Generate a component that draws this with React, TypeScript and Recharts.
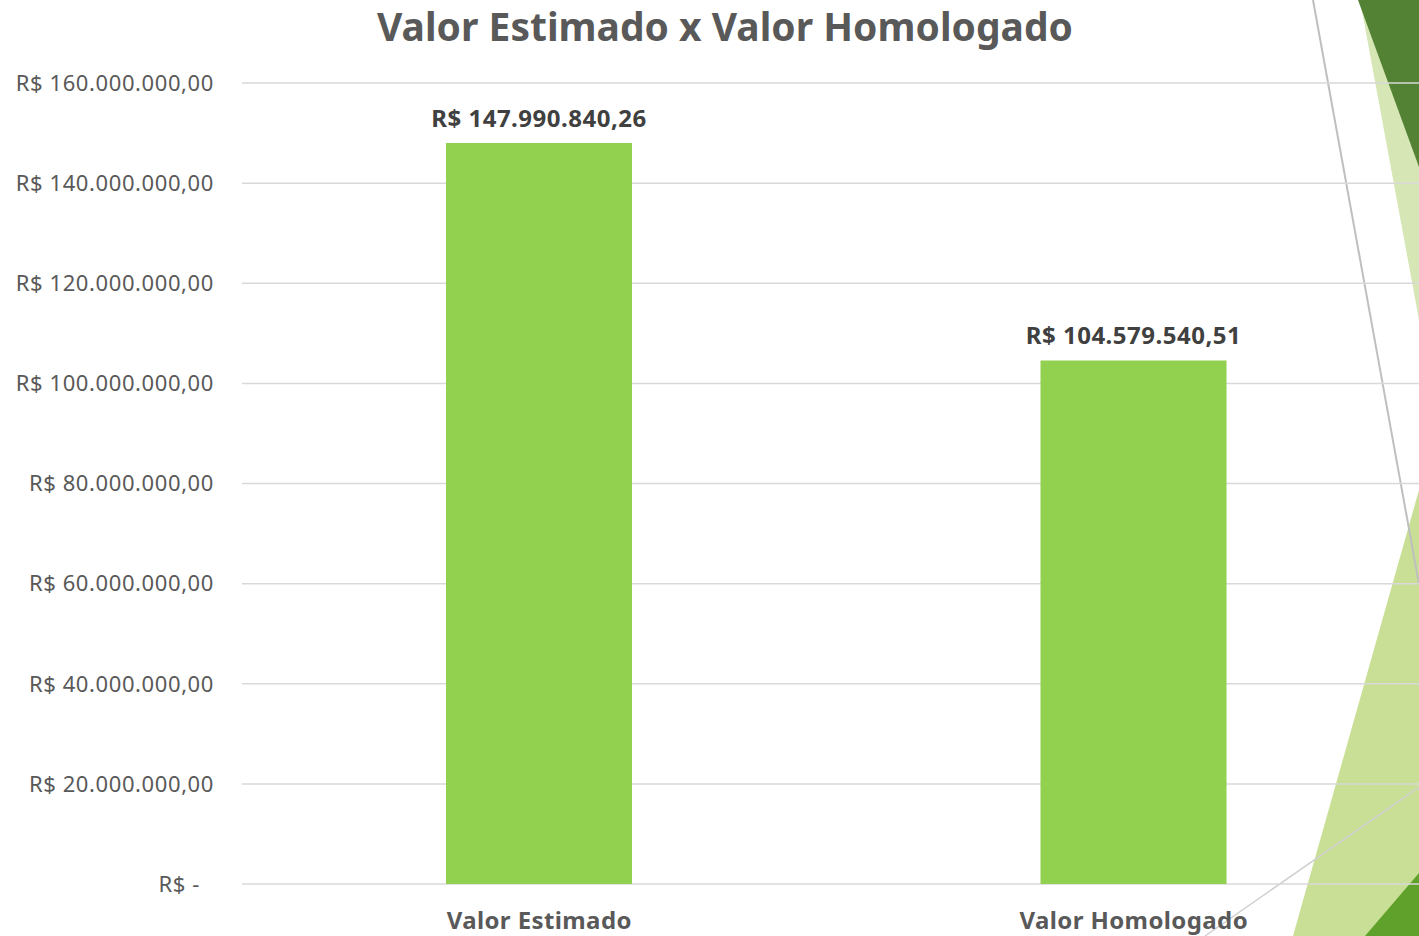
import { Bar, BarChart, CartesianGrid, LabelList, XAxis, YAxis } from 'recharts';

const categorias = ['Valor Estimado', 'Valor Homologado'];
const valores = [147990840.26, 104579540.51];
const ticksY = [0, 20000000, 40000000, 60000000, 80000000, 100000000, 120000000, 140000000, 160000000];

const dados = categorias.map((nome, i) => ({ nome, valor: valores[i] }));

const FONTE = "'Noto Sans', 'DejaVu Sans', sans-serif";

function formatarReal(v: number) {
  const [inteiro, dec] = v.toFixed(2).split('.');
  const comPontos = inteiro.replace(/\B(?=(\d{3})+(?!\d))/g, '.');
  return `R$ ${comPontos},${dec}`;
}

function TickY({ x, y, payload }: any) {
  const zero = payload.value === 0;
  return (
    <text
      x={zero ? x - 14 : x}
      y={y}
      dy="0.355em"
      textAnchor="end"
      fill="#595959"
      fontSize={22}
      letterSpacing={0.6}
      fontFamily={FONTE}
    >
      {zero ? 'R$ -' : formatarReal(payload.value)}
    </text>
  );
}

// fundo decorativo do slide (triângulos verdes e linhas cinzas)
function Decoracao() {
  return (
    <svg width={1419} height={936} style={{ position: 'absolute', left: 0, top: 0 }}>
      <polygon points="1360,0 1419,0 1419,320" fill="#d6e6b5" />
      <polygon points="1358,0 1419,0 1419,167" fill="#548235" />
      <polygon points="1293,936 1419,490 1419,936" fill="#c9df95" />
      <polygon points="1365,936 1419,873 1419,936" fill="#5fa12a" />
      <line x1={1313} y1={0} x2={1419} y2={584} stroke="#bfbfbf" strokeWidth={2} />
      <line x1={1205} y1={936} x2={1419} y2={787} stroke="#d0d0d0" strokeWidth={1.5} />
    </svg>
  );
}

export default function App() {
  return (
    <div style={{ position: 'absolute', left: 0, top: 0, width: 1419, height: 936, overflow: 'hidden', background: '#fff' }}>
      <Decoracao />
      <div style={{ position: 'absolute', left: 0, top: 0 }}>
        <BarChart width={1431} height={936} data={dados} margin={{ top: 83, right: 0, bottom: 0, left: 0 }} barSize={186}>
          <CartesianGrid vertical={false} stroke="#d9d9d9" strokeWidth={1.5} />
          <XAxis
            dataKey="nome"
            height={52}
            axisLine={false}
            tickLine={false}
            tickSize={0}
            tickMargin={28}
            tick={{ fill: '#595959', fontSize: 24, fontWeight: 'bold', fontFamily: FONTE, letterSpacing: 0.4 }}
          />
          <YAxis
            width={242}
            domain={[0, 160000000]}
            ticks={ticksY}
            axisLine={false}
            tickLine={false}
            tickSize={0}
            tickMargin={28}
            tick={<TickY />}
          />
          <Bar dataKey="valor" fill="#92d050" isAnimationActive={false}>
            <LabelList
              dataKey="valor"
              position="top"
              offset={16}
              formatter={(v: any) => formatarReal(Number(v))}
              fill="#404040"
              fontSize={24}
              fontWeight="bold"
              letterSpacing={0.5}
              fontFamily={FONTE}
            />
          </Bar>
        </BarChart>
      </div>
      <svg width={1419} height={60} style={{ position: 'absolute', left: 0, top: 0 }}>
        <text x={725} y={41} textAnchor="middle" fill="#595959" fontSize={39} fontWeight="bold" fontFamily={FONTE}>
          Valor Estimado x Valor Homologado
        </text>
      </svg>
    </div>
  );
}
